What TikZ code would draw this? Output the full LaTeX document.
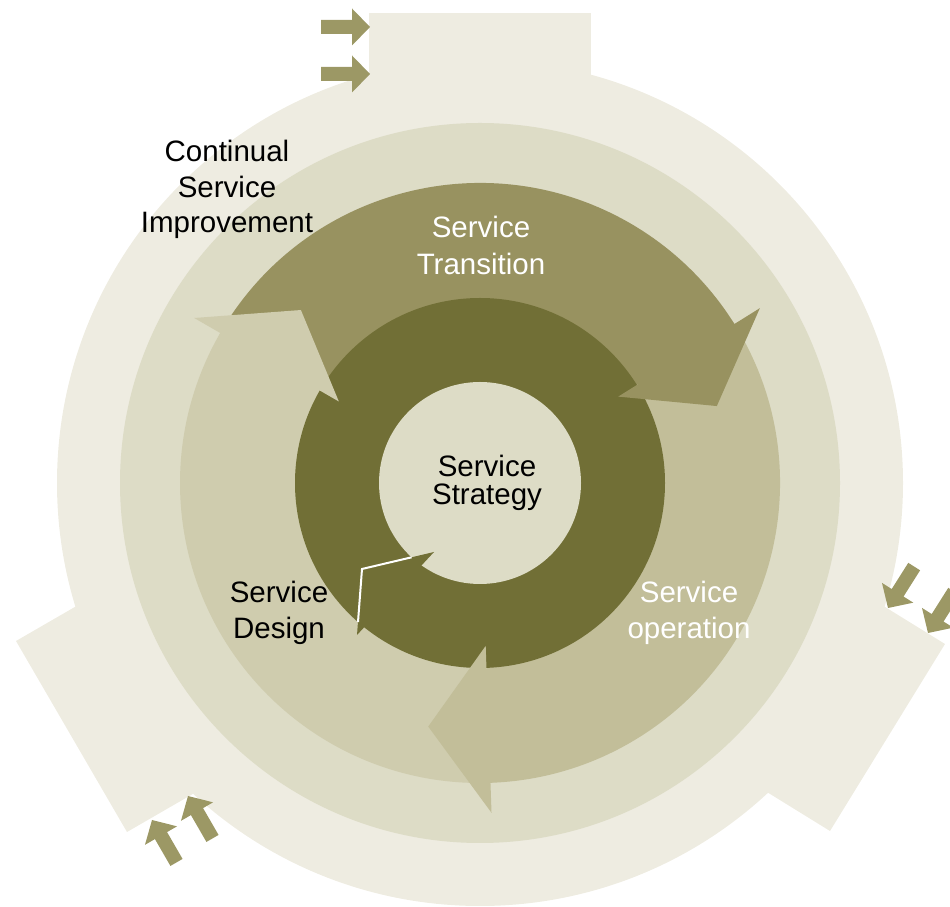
\documentclass[tikz,border=0pt]{standalone}
\usepackage{fontspec}
\setmainfont{Liberation Sans}
\definecolor{ringA}{HTML}{EEECE1}
\definecolor{ringB}{HTML}{DDDCC6}
\definecolor{transc}{HTML}{989260}
\definecolor{operc}{HTML}{C2BE99}
\definecolor{desc}{HTML}{CFCCAE}
\definecolor{darkc}{HTML}{716F36}
\definecolor{arrowc}{HTML}{9C9865}
\begin{document}
\begin{tikzpicture}[x=1pt,y=1pt,
  lbl/.style={font=\fontsize{29.5}{36}\selectfont, anchor=base, inner sep=0pt},
  smallarr/.pic={\fill[arrowc] (0,0) -- (-18,18.5) -- (-18,7) -- (-49,7) -- (-49,-7) -- (-18,-7) -- (-18,-18.5) -- cycle;}]
\clip (0,0) rectangle (950,907);
\coordinate (C) at (480,424);
% outer ring with three tabs
\fill[ringA] (C) circle[radius=423];
\fill[ringA] (369,894) rectangle (591,650);
\fill[ringA] (16,266) -- (127,75) -- (300,175) -- (189,366) -- cycle;
\fill[ringA] (945,263) -- (830,76) -- (660,181) -- (775,368) -- cycle;
% small input arrows
\pic at (370,880) {smallarr};
\pic at (370,833) {smallarr};
\pic[rotate=120] at (152,87) {smallarr};
\pic[rotate=120] at (188,111) {smallarr};
\pic[rotate=237.7] at (888,299) {smallarr};
\pic[rotate=237.7] at (928,274) {smallarr};
% second ring
\fill[ringB] (C) circle[radius=360];
% bodies of the three big arrows
\begin{scope}[shift={(C)}]
\fill[transc] (0,0) -- (150:300) arc[start angle=150,end angle=32,radius=300] -- cycle;
\fill[operc] (0,0) -- (32:300) arc[start angle=32,end angle=-88,radius=300] -- cycle;
\fill[desc] (0,0) -- (-88:300) arc[start angle=-88,end angle=-210,radius=300] -- cycle;
% dark strategy ring
\fill[darkc] (0,0) circle[radius=185];
\fill[ringB] (0,0) circle[radius=101];
\end{scope}
% head of the dark ring arrow
\fill[darkc] (434,355) -- (362,338) -- (357,272) -- cycle;
\draw[white, line width=2pt] (358,285) -- (362,338) -- (411.6,349.7);
% heads of the three big arrows
\begin{scope}[shift={(C)}]
\fill[transc] (32:163) -- (18:249) -- (32:330) -- (32:300) -- (32.6:299.5) -- (32.6:186) -- (32:186) -- cycle;
\fill[operc] (-88:163) -- (-102:249) -- (-88:330) -- (-88:300) -- (-87.4:299.5) -- (-87.4:186) -- (-88:186) -- cycle;
\fill[desc] (150:163) -- (136:249) -- (150:330) -- (150:300) -- (150.6:299.5) -- (150.6:186) -- (150:186) -- cycle;
\end{scope}
% labels
\node[lbl] (csiA) at (227,745) {Continual};
\node[lbl] (csiB) at (227,709) {Service};
\node[lbl] (csiC) at (227,674) {Improvement};
\node[lbl, text=white] (trA) at (481,669) {Service};
\node[lbl, text=white] (trB) at (481,632) {Transition};
\node[lbl] (stA) at (487,430) {Service};
\node[lbl] (stB) at (487,402) {Strategy};
\node[lbl] (deA) at (279,304) {Service};
\node[lbl] (deB) at (279,268) {Design};
\node[lbl, text=white] (opA) at (689,304) {Service};
\node[lbl, text=white] (opB) at (689,268) {operation};
\end{tikzpicture}
\end{document}
